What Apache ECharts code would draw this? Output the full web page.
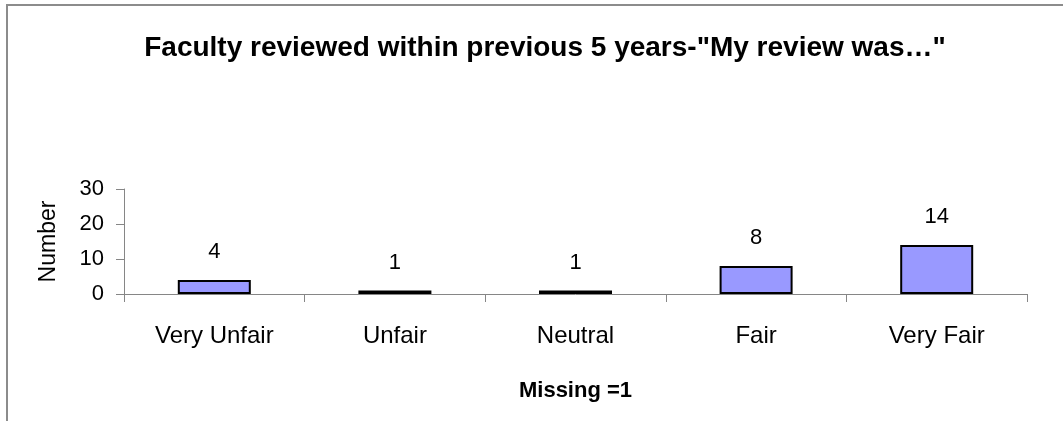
<!DOCTYPE html>
<html>
<head>
<meta charset="utf-8">
<script src="https://cdn.jsdelivr.net/npm/echarts@6/dist/echarts.min.js"></script>
<style>
html, body { margin: 0; padding: 0; background: #fff; }
#main { width: 1063px; height: 421px; }
</style>
</head>
<body>
<div id="main"></div>
<script>
var categories = ['Very Unfair', 'Unfair', 'Neutral', 'Fair', 'Very Fair'];
var counts = [4, 1, 1, 8, 14];
var yTicks = [0, 10, 20, 30];

var font = '"Liberation Sans", Arial, sans-serif';
var axisGray = '#868686';

var myChart = echarts.init(document.getElementById('main'));
var option = {
	animation: false,
	backgroundColor: '#fff',
	title: {
		text: 'Faculty reviewed within previous 5 years-"My review was…"',
		left: 540,
		top: 29,
		textAlign: 'center',
		textStyle: { fontFamily: font, fontWeight: 'bold', fontSize: 28, color: '#000' }
	},
	graphic: [{
		type: 'rect',
		shape: { x: 7, y: 5, width: 1200, height: 600 },
		style: { fill: 'none', stroke: '#8c8c8c', lineWidth: 2 },
		silent: true
	}],
	grid: { left: 124, right: 36, top: 189, bottom: 127 },
	xAxis: {
		type: 'category',
		data: categories,
		name: 'Missing =1',
		nameLocation: 'middle',
		nameGap: 86,
		nameTextStyle: { fontFamily: font, fontWeight: 'bold', fontSize: 22, color: '#000' },
		axisLine: { lineStyle: { color: axisGray, width: 1 } },
		axisTick: { show: true, length: 8, lineStyle: { color: axisGray } },
		axisLabel: { fontFamily: font, fontSize: 24, color: '#000', margin: 30 }
	},
	yAxis: {
		type: 'value',
		min: yTicks[0],
		max: yTicks[yTicks.length - 1],
		interval: 10,
		name: 'Number',
		nameLocation: 'middle',
		nameGap: 64,
		nameTextStyle: { fontFamily: font, fontSize: 23, color: '#000' },
		axisLine: { show: true, lineStyle: { color: axisGray, width: 1 } },
		axisTick: { show: true, length: 8, lineStyle: { color: axisGray } },
		axisLabel: { fontFamily: font, fontSize: 22, color: '#000', margin: 20 },
		splitLine: { show: false }
	},
	series: [{
		type: 'bar',
		data: counts,
		barWidth: 73,
		itemStyle: { color: '#9999ff', borderColor: '#000', borderWidth: 2 },
		label: {
			show: true,
			position: 'top',
			distance: 17,
			fontFamily: font,
			fontSize: 22,
			color: '#000'
		}
	}]
};
myChart.setOption(option);
</script>
</body>
</html>
